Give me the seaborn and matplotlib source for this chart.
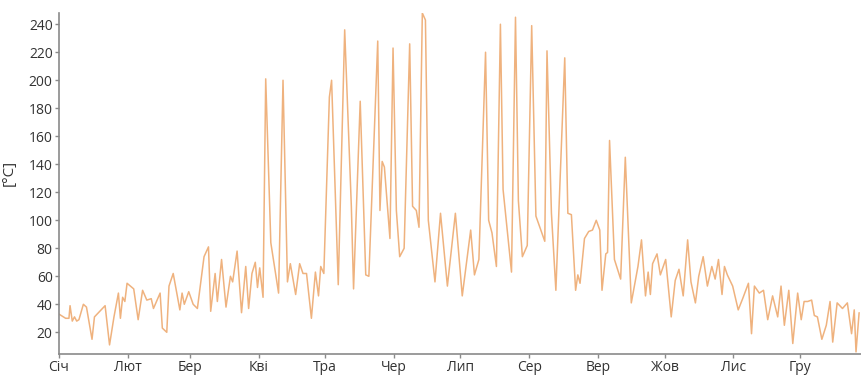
import matplotlib
matplotlib.use("Agg")
import matplotlib.pyplot as plt
import seaborn as sns

# day of year (vertices of the curve) and temperature
days = [0, 3, 4.5, 5, 6, 7, 8, 9, 11, 12.4, 14.9, 16, 20.8, 22.8, 24.8, 26.8, 27.7, 28.7, 29.7, 30.7,
        33.7, 35.7, 37.7, 39.6, 41.6, 42.6, 45.6, 46.6, 48.6, 49.6, 51.5, 54.5, 55.5, 56.5, 58.5, 60.5,
        62.4, 65.4, 67.4, 68.4, 70.4, 71.4, 73.3, 75.3, 77.3, 78.3, 80.3, 82.3, 84.2, 85.5, 87, 88.5,
        89.5, 90.5, 92, 93.2, 95.5, 99, 101, 103, 104.3, 106.7, 108.5, 110, 111.6, 113.8, 115.6, 117,
        118, 119.4, 121.9, 122.9, 125.9, 128.8, 131.8, 132.8, 135.8, 138.3, 139.7, 143.7, 144.7, 145.7,
        146.7, 149.2, 150.6, 152.1, 153.6, 155.6, 158.1, 159.4, 161.1, 162.3, 163.8, 165.2, 166.5,
        169.5, 172, 175.1, 178.7, 181.8, 185.6, 187.3, 189.3, 192.3, 193.7, 195.2, 197.2, 199, 200.2,
        204, 205.8, 207.1, 208.9, 211.1, 213.1, 215, 217, 219, 220, 222, 224, 228, 229.4, 231, 232.9,
        233.9, 234.9, 236.9, 238.8, 240.5, 242.2, 243.8, 244.8, 246.5, 247.3, 248.2, 250.4, 253.2,
        255.3, 258, 261, 262.6, 264.4, 265.6, 266.6, 267.6, 269.6, 271.1, 273.5, 276, 277.8, 279.5,
        281.4, 283.4, 284.9, 286.9, 288.4, 290.4, 292.3, 294.3, 295.8, 297.3, 298.9, 300, 301.3, 303.7,
        306.2, 308.2, 310.8, 312.2, 313.5, 315.7, 317.6, 319.5, 321.7, 324, 325.5, 327, 329, 330.8,
        333, 334.6, 335.9, 337.5, 339.3, 340.5, 341.9, 343.9, 345.9, 347.6, 348.8, 350.8, 353.2,
        355.4, 357.3, 358.5, 359.3, 360.7]
temps = [33, 30, 30, 39, 28, 31, 28, 29, 40, 38, 15, 31, 39, 11, 31, 48, 30, 45, 42, 55,
         51, 29, 50, 43, 44, 37, 48, 23, 20, 53, 62, 36, 48, 40, 49, 40,
         37, 74, 81, 35, 62, 42, 72, 38, 60, 56, 78, 34, 67, 37, 62, 70,
         52, 66, 45, 201, 84, 48, 200, 56, 69, 47, 69, 62, 62, 30, 63, 46,
         67, 62, 188, 200, 54, 236, 110, 51, 185, 61, 60, 228, 107, 142,
         138, 87, 223, 107, 74, 80, 226, 110, 107, 95, 248, 243, 100,
         56, 105, 53, 105, 46, 93, 61, 72, 220, 100, 91, 67, 240, 122,
         63, 245, 114, 74, 82, 239, 103, 94, 85, 221, 105, 50, 216, 105, 104, 50,
         61, 55, 87, 92, 93, 100, 93, 50, 76, 77, 157, 72, 58,
         145, 41, 67, 86, 46, 63, 47, 69, 76, 61, 72, 31, 57, 65,
         46, 86, 56, 41, 60, 74, 53, 67, 58, 72, 47, 67, 61, 53,
         36, 44, 55, 19, 53, 48, 50, 29, 46, 31, 53, 25, 50, 12,
         48, 29, 42, 42, 43, 32, 31, 15, 25, 42, 13, 41, 37,
         41, 19, 36, 6, 34]

month_starts = [0, 31, 59, 90, 120, 151, 181, 212, 243, 273, 304, 334]
month_labels = ["Січ", "Лют", "Бер", "Кві", "Тра", "Чер", "Лип", "Сер", "Вер", "Жов", "Лис", "Гру"]
y_ticks = list(range(20, 241, 20))

sns.set_theme(style="ticks")
plt.rcParams["font.family"] = ["Open Sans", "DejaVu Sans"]

fig = plt.figure(figsize=(8.62, 3.78), dpi=100)
ax = fig.add_axes([0.0684, 0.0635, 0.9316, 0.902])

sns.lineplot(x=days, y=temps, ax=ax, color="#efb27e", linewidth=1.1,
             estimator=None, sort=False)

ax.set_xlim(0, 362)
ax.set_ylim(4.5, 248)
ax.set_xticks(month_starts)
ax.set_xticklabels(month_labels)
ax.set_yticks(y_ticks)

for side in ["top", "right"]:
    ax.spines[side].set_visible(False)
for side in ["left", "bottom"]:
    ax.spines[side].set_color("#8a8a8a")
    ax.spines[side].set_linewidth(1.2)

ax.tick_params(axis="both", length=3, width=1, color="#8a8a8a",
               labelcolor="#333333", labelsize=10, pad=1.5)
ax.set_xlabel("")
ax.set_ylabel("[°C]", fontsize=11, color="#333333")
ax.yaxis.set_label_coords(-0.052, 0.53)

fig.savefig("out.png", dpi=100)
